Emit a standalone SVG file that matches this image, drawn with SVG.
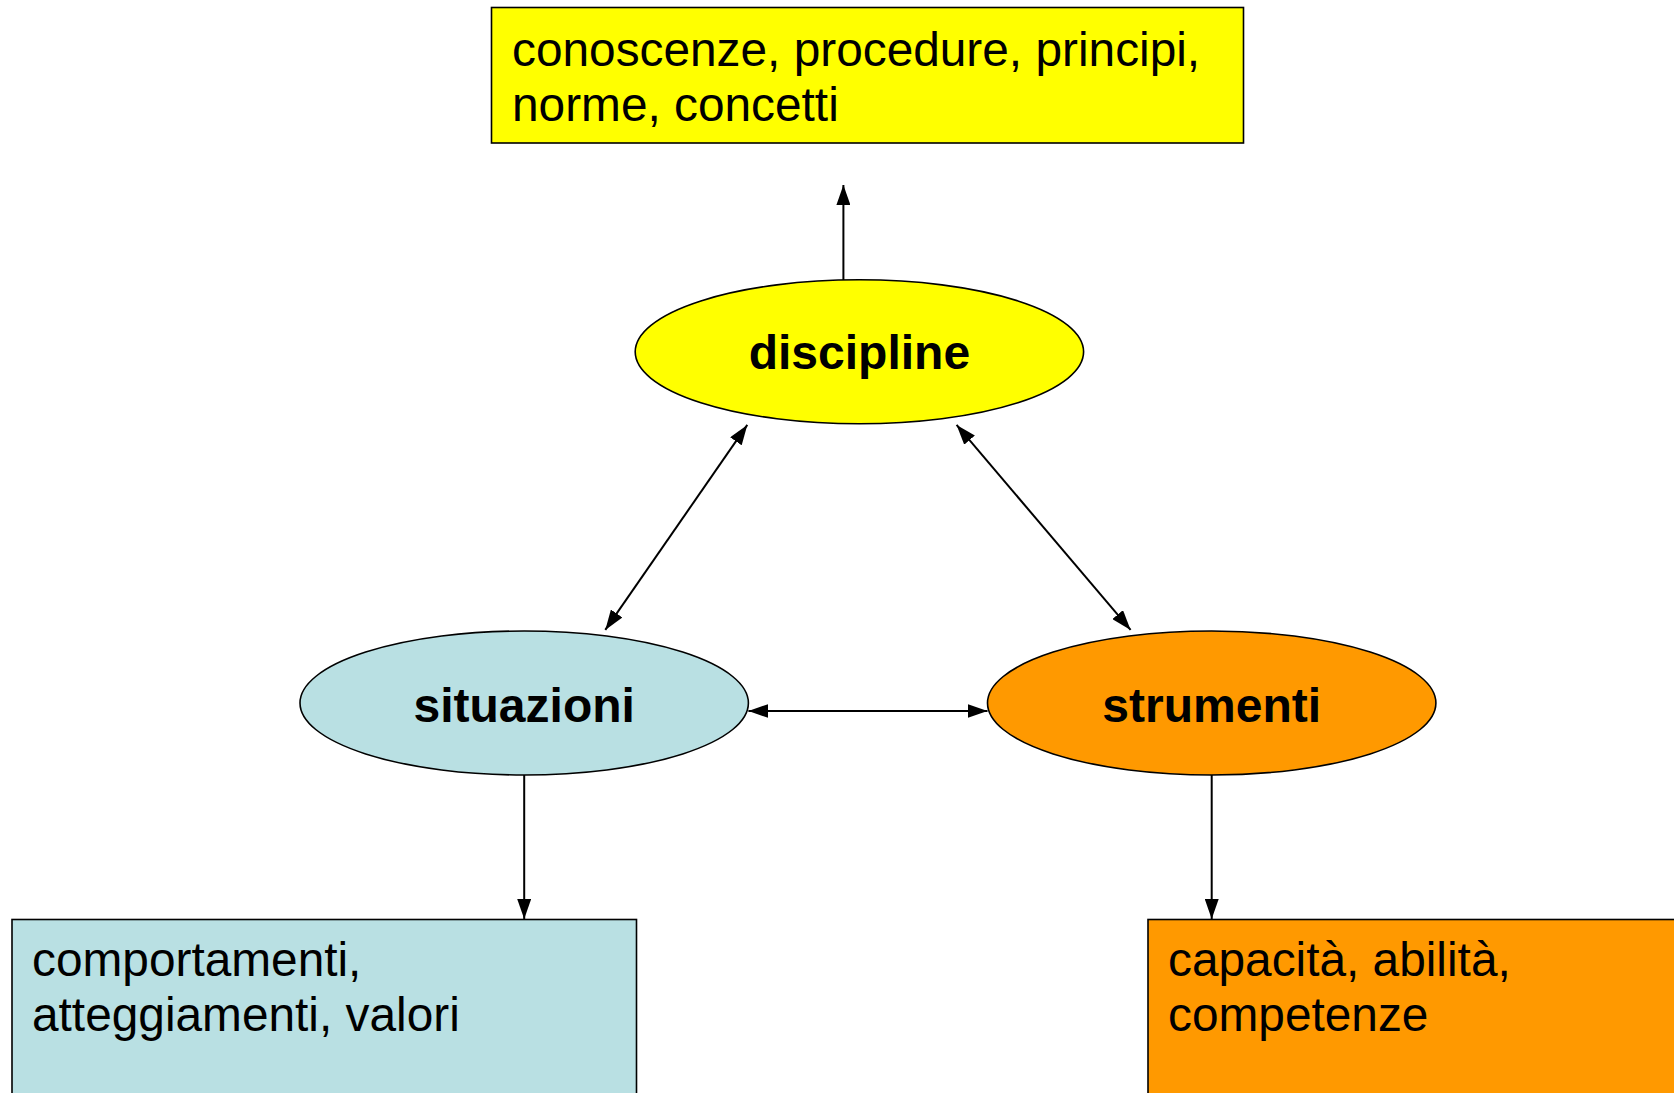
<svg xmlns="http://www.w3.org/2000/svg" width="1674" height="1093" viewBox="0 0 1674 1093">
<style>
.box{stroke:#000;stroke-width:1.6}
.ell{stroke:#000;stroke-width:1.6}
.t{font-family:"Liberation Sans",Arial,sans-serif;font-size:47.8px;fill:#000}
.b{font-family:"Liberation Sans",Arial,sans-serif;font-size:48px;font-weight:bold;fill:#000;text-anchor:middle}
.c{stroke:#000;stroke-width:2;fill:none}
</style>
<defs>
<marker id="ah" markerUnits="userSpaceOnUse" markerWidth="22" markerHeight="14" refX="20" refY="7" orient="auto-start-reverse">
<path d="M0,0 L20,7 L0,14 Z" fill="#000"/>
</marker>
</defs>
<rect width="1674" height="1093" fill="#fff"/>
<g id="conn">
<line class="c" x1="843.4" y1="280" x2="843.4" y2="185" marker-end="url(#ah)"/>
<line class="c" x1="605.3" y1="629.9" x2="747.3" y2="424.9" marker-start="url(#ah)" marker-end="url(#ah)"/>
<line class="c" x1="956.6" y1="424.9" x2="1130.6" y2="629.9" marker-start="url(#ah)" marker-end="url(#ah)"/>
<line class="c" x1="748.4" y1="711" x2="987.5" y2="711" marker-start="url(#ah)" marker-end="url(#ah)"/>
<line class="c" x1="524.2" y1="775" x2="524.2" y2="919" marker-end="url(#ah)"/>
<line class="c" x1="1211.7" y1="775" x2="1211.7" y2="919" marker-end="url(#ah)"/>
</g>
<g id="box-top">
<rect class="box" x="491.5" y="7.5" width="752" height="135.5" fill="#FFFF00"/>
<text class="t" x="512" y="66">conoscenze, procedure, principi,</text>
<text class="t" x="512" y="121">norme, concetti</text>
</g>
<g id="discipline">
<ellipse class="ell" cx="859.4" cy="351.8" rx="224.2" ry="72" fill="#FFFF00"/>
<text class="b" x="859.4" y="369">discipline</text>
</g>
<g id="situazioni">
<ellipse class="ell" cx="524.2" cy="703" rx="224.2" ry="72" fill="#B9E0E3"/>
<text class="b" x="524.2" y="722">situazioni</text>
</g>
<g id="strumenti">
<ellipse class="ell" cx="1211.7" cy="703" rx="224.2" ry="72" fill="#FF9900"/>
<text class="b" x="1211.7" y="722">strumenti</text>
</g>
<g id="box-left">
<rect class="box" x="12" y="919.5" width="624.5" height="180" fill="#B9E0E3"/>
<text class="t" x="32" y="976">comportamenti,</text>
<text class="t" x="32" y="1031">atteggiamenti, valori</text>
</g>
<g id="box-right">
<rect class="box" x="1148" y="919.5" width="540" height="180" fill="#FF9900"/>
<text class="t" x="1168" y="976">capacità, abilità,</text>
<text class="t" x="1168" y="1031">competenze</text>
</g>
</svg>
